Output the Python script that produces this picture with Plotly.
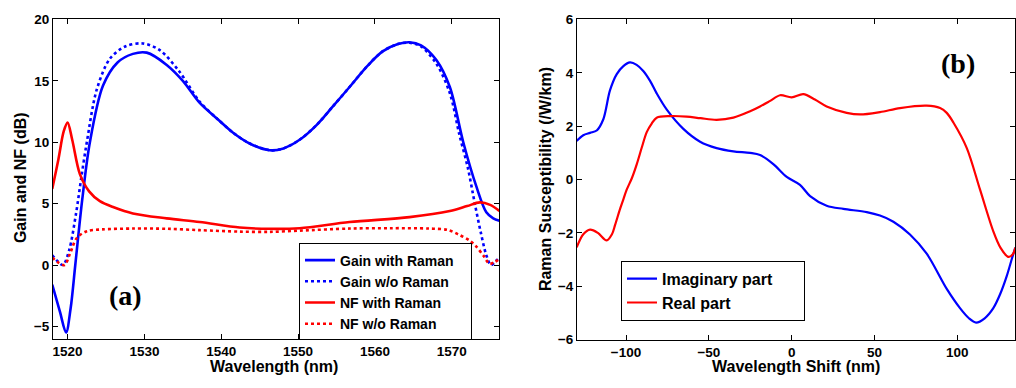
import plotly.graph_objects as go

# ---------------- Panel (a) data ----------------
gain_r_x = [1518.0, 1519.0, 1519.8, 1520.4, 1521.0, 1521.9, 1522.9, 1524.6, 1526.5, 1528.5, 1530.3,
            1532.9, 1535.0, 1537.2, 1539.5, 1541.5, 1543.7, 1546.3, 1548.1, 1550.2, 1552.4, 1554.5,
            1556.7, 1559.0, 1561.0, 1563.0, 1564.5, 1566.0, 1568.0, 1569.75, 1571.5, 1573.2, 1574.5,
            1575.4, 1576.2]
gain_r_y = [-1.6, -3.8, -5.5, -3.5, 0.0, 5.3, 10.0, 14.6, 16.5, 17.2, 17.3,
            16.3, 15.0, 13.2, 11.9, 10.8, 9.9, 9.35, 9.5, 10.2, 11.4, 12.9,
            14.5, 16.2, 17.4, 18.0, 18.15, 17.9, 16.7, 14.5, 10.0, 6.4, 4.3,
            3.8, 3.6]

gain_n_x = [1518.0, 1518.7, 1519.4, 1520.2, 1521.1, 1521.8, 1522.5, 1523.8, 1525.5, 1527.5, 1529.8,
            1532.0, 1534.5, 1537.2, 1539.5, 1541.5, 1543.7, 1546.3, 1548.1, 1550.2, 1552.4, 1554.5,
            1556.7, 1559.0, 1561.0, 1563.0, 1564.5, 1566.0, 1568.0, 1569.75, 1571.0, 1572.1, 1573.0,
            1573.8, 1574.5, 1575.1, 1575.7, 1576.2]
gain_n_y = [0.8, 0.3, 0.0, 1.2, 4.2, 7.2, 10.0, 14.3, 16.8, 17.8, 18.05,
            17.5, 15.8, 13.3, 11.9, 10.8, 9.9, 9.35, 9.5, 10.2, 11.4, 12.9,
            14.5, 16.2, 17.4, 18.0, 18.1, 17.8, 16.4, 14.0, 10.6, 7.9, 5.0,
            2.6, 0.8, 0.0, 0.3, 0.6]

nf_r_x = [1518.0, 1518.8, 1519.5, 1520.0, 1520.6, 1521.6, 1522.8, 1524.2, 1526.0, 1528.5, 1532.9,
          1537.2, 1542.4, 1546.3, 1550.2, 1556.7, 1564.5, 1569.75, 1572.0, 1573.65, 1575.0, 1576.2]
nf_r_y = [6.2, 8.6, 10.9, 11.6, 10.2, 7.4, 6.0, 5.2, 4.7, 4.2, 3.8,
          3.5, 3.05, 2.95, 3.0, 3.5, 3.9, 4.4, 4.8, 5.1, 4.9, 4.4]

nf_n_x = [1518.0, 1518.8, 1519.6, 1520.3, 1521.2, 1522.5, 1524.5, 1528.5, 1533.0, 1537.2, 1542.4,
          1546.3, 1550.2, 1556.7, 1562.0, 1567.1, 1569.5, 1571.0, 1572.3, 1573.2, 1574.2, 1574.9,
          1575.6, 1576.2]
nf_n_y = [0.6, 0.2, 0.0, 0.9, 2.2, 2.75, 2.9, 2.97, 2.95, 2.84, 2.72,
          2.7, 2.8, 2.97, 3.0, 2.97, 2.85, 2.45, 2.0, 1.5, 0.7, 0.1,
          0.25, 0.5]

# ---------------- Panel (b) data ----------------
imag_x = [-129.8, -125.8, -121.7, -117.7, -113.7, -109.7, -105.6, -101.6, -97.6, -93.6, -89.6,
          -85.5, -81.5, -75.4, -65.4, -55.3, -45.3, -35.2, -25.1, -19.1, -11.1, -3.0,
          5.0, 11.1, 21.1, 31.2, 45.3, 53.3, 61.4, 71.4, 81.5, 93.6, 101.6, 107.0,
          111.3, 116.5, 121.7, 125.8, 129.8, 133.0, 135.0]
imag_y = [1.45, 1.66, 1.75, 1.84, 2.26, 3.34, 3.95, 4.25, 4.39, 4.3, 4.07,
          3.7, 3.23, 2.62, 1.9, 1.42, 1.18, 1.06, 1.0, 0.92, 0.58, 0.1,
          -0.2, -0.62, -0.98, -1.1, -1.22, -1.35, -1.58, -2.06, -2.78, -4.1, -4.82, -5.2,
          -5.36, -5.2, -4.82, -4.3, -3.62, -2.95, -2.55]

real_x = [-129.8, -125.8, -121.7, -117.0, -111.7, -108.5, -106.6, -103.6, -101.6, -99.6, -96.5,
          -93.5, -90.5, -87.5, -84.5, -81.5, -73.4, -63.4, -55.0, -45.3, -35.2, -25.1,
          -19.1, -13.0, -7.0, 0.0, 7.0, 14.0, 21.1, 33.2, 41.3, 53.3, 65.4, 81.5, 89.6,
          93.6, 97.6, 105.7, 113.7, 121.7, 126.0, 130.8, 133.5, 135.0]
real_y = [-2.54, -2.05, -1.88, -2.0, -2.28, -2.05, -1.7, -1.1, -0.74, -0.38, 0.05,
          0.58, 1.2, 1.78, 2.1, 2.32, 2.38, 2.36, 2.3, 2.24, 2.32, 2.56,
          2.74, 2.95, 3.16, 3.08, 3.2, 3.0, 2.74, 2.5, 2.44, 2.53, 2.68, 2.77, 2.68,
          2.5, 2.14, 1.18, -0.38, -1.94, -2.55, -2.9, -2.8, -2.55]

# ---------------- Axes / labels ----------------
xa_ticks = [1520, 1530, 1540, 1550, 1560, 1570]
ya_ticks = [-5, 0, 5, 10, 15, 20]
xb_ticks = [-100, -50, 0, 50, 100]
yb_ticks = [-6, -4, -2, 0, 2, 4, 6]

W, H = 1016, 388
BLUE = "#0000ff"
RED = "#ff0000"
FONT = "Liberation Sans, Arial, Helvetica, sans-serif"
NB = "\u00a0"

fig = go.Figure()
lw = 2.6
sm = 0.9
fig.add_trace(go.Scatter(x=gain_r_x, y=gain_r_y, mode="lines", name="Gain with Raman" + NB * 3,
                         line=dict(color=BLUE, width=lw, shape="spline", smoothing=sm),
                         xaxis="x", yaxis="y", legend="legend"))
fig.add_trace(go.Scatter(x=gain_n_x, y=gain_n_y, mode="lines", name="Gain w/o Raman",
                         line=dict(color=BLUE, width=lw, dash="dot", shape="spline", smoothing=sm),
                         xaxis="x", yaxis="y", legend="legend"))
fig.add_trace(go.Scatter(x=nf_r_x, y=nf_r_y, mode="lines", name="NF with Raman",
                         line=dict(color=RED, width=lw, shape="spline", smoothing=sm),
                         xaxis="x", yaxis="y", legend="legend"))
fig.add_trace(go.Scatter(x=nf_n_x, y=nf_n_y, mode="lines", name="NF w/o Raman",
                         line=dict(color=RED, width=lw, dash="dot", shape="spline", smoothing=sm),
                         xaxis="x", yaxis="y", legend="legend"))

fig.add_trace(go.Scatter(x=imag_x, y=imag_y, mode="lines", name="Imaginary part" + NB * 6,
                         line=dict(color=BLUE, width=2.2, shape="spline", smoothing=sm),
                         xaxis="x2", yaxis="y2", legend="legend2"))
fig.add_trace(go.Scatter(x=real_x, y=real_y, mode="lines", name="Real part",
                         line=dict(color=RED, width=2.2, shape="spline", smoothing=sm),
                         xaxis="x2", yaxis="y2", legend="legend2"))

def px_x(p):
    return p / W

def px_y(p):
    return 1 - p / H

axis_common = dict(showgrid=False, zeroline=False, showline=True, linecolor="black",
                   linewidth=1, mirror="ticks", ticks="inside", ticklen=5, tickcolor="black",
                   tickfont=dict(family=FONT, size=13.5, color="black", weight="bold"))

fig.update_layout(
    width=W, height=H, margin=dict(l=0, r=0, t=0, b=0),
    paper_bgcolor="white", plot_bgcolor="white", showlegend=True,
    xaxis=dict(domain=[px_x(53), px_x(499)], range=[1518.1, 1576.15], tickvals=xa_ticks,
               anchor="y", **axis_common),
    yaxis=dict(domain=[px_y(345), px_y(13)], range=[-6, 20], tickvals=ya_ticks,
               anchor="x", **axis_common),
    xaxis2=dict(domain=[px_x(577), px_x(1015)], range=[-129.6, 134.8], tickvals=xb_ticks,
                anchor="y2", **axis_common),
    yaxis2=dict(domain=[px_y(346), px_y(13)], range=[-6, 6], tickvals=yb_ticks,
                anchor="x2", **axis_common),
    legend=dict(x=px_x(299), y=px_y(246), xanchor="left", yanchor="top",
                bgcolor="white", bordercolor="black", borderwidth=1,
                font=dict(family=FONT, size=14, color="black", weight="bold"),
                tracegroupgap=0),
    legend2=dict(x=px_x(621), y=px_y(264), xanchor="left", yanchor="top",
                 bgcolor="white", bordercolor="black", borderwidth=1,
                 font=dict(family=FONT, size=16, color="black", weight="bold"),
                 tracegroupgap=0),
)

lab_font = dict(family=FONT, size=16, color="black", weight="bold")
serif = dict(family="Liberation Serif, Times New Roman, serif", size=28, color="black", weight="bold")
annotations = [
    dict(text="Gain and NF (dB)", x=px_x(20), y=px_y(178), textangle=-90, font=lab_font),
    dict(text="Wavelength (nm)", x=px_x(274), y=px_y(374), font=lab_font),
    dict(text="Raman Susceptibility (/W/km)", x=px_x(545), y=px_y(179), textangle=-90, font=lab_font),
    dict(text="Wavelength Shift (nm)", x=px_x(796), y=px_y(374), font=lab_font),
    dict(text="(a)", x=px_x(125), y=px_y(300), font=serif),
    dict(text="(b)", x=px_x(958), y=px_y(59), font=serif),
]
for a in annotations:
    a.update(xref="paper", yref="paper", showarrow=False, xanchor="center", yanchor="middle")
fig.update_layout(annotations=annotations)

fig.write_html("out.html")
